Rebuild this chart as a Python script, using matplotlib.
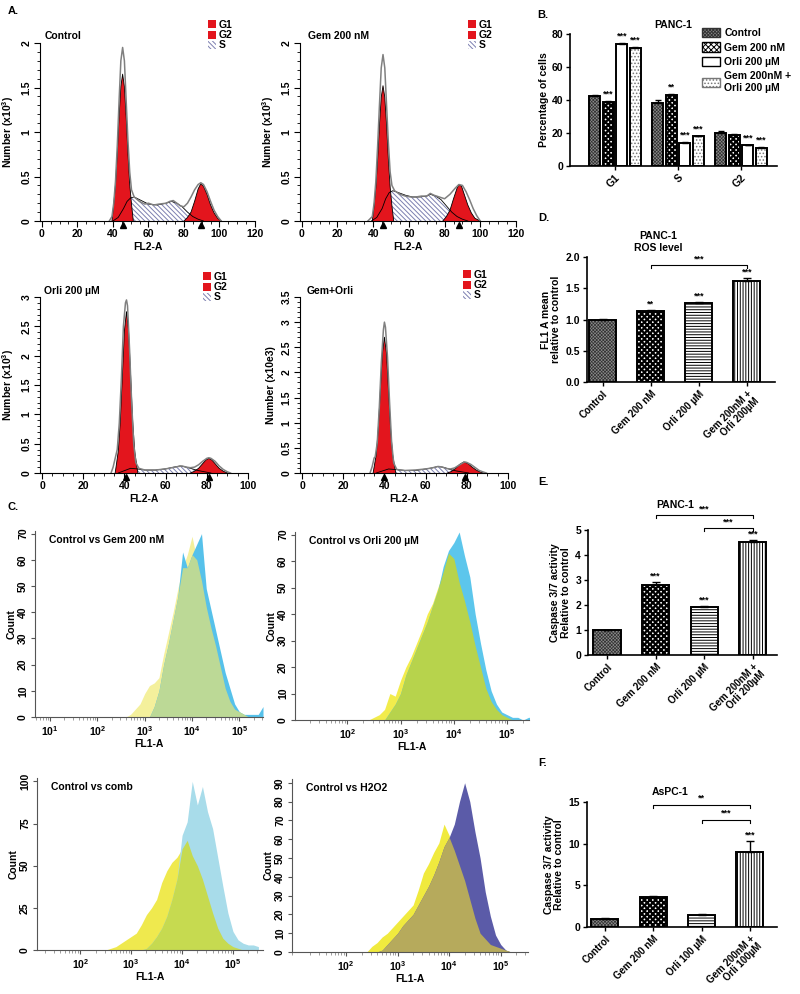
import numpy as np
import matplotlib
matplotlib.use('Agg')
import matplotlib.pyplot as plt
from matplotlib.patches import Patch
from matplotlib.ticker import MultipleLocator, FixedLocator, LogLocator, NullFormatter, FuncFormatter

plt.rcParams['font.family'] = ['Liberation Sans', 'DejaVu Sans']
plt.rcParams['font.weight'] = 'bold'
plt.rcParams['axes.labelweight'] = 'bold'
plt.rcParams['mathtext.default'] = 'regular'
plt.rcParams['hatch.linewidth'] = 0.7

# ---------------- A. cell cycle (FL2-A), number x10^3 ----------------
ctrl_tot_x = [38, 39.5, 40.5, 41.5, 42.5, 43.5, 44.5, 45.5, 46.5, 47.5, 48.5, 49.5, 50.5, 52, 55, 58, 60, 63, 66, 70,
              72, 74, 76, 78, 80, 82, 84, 86, 88, 89.5, 91, 93, 95, 97, 99, 101]
ctrl_tot_y = [0, 0.05, 0.2, 0.45, 0.85, 1.35, 1.8, 1.95, 1.8, 1.35, 0.9, 0.55, 0.35, 0.27, 0.22, 0.19, 0.2, 0.18, 0.19, 0.2,
              0.22, 0.23, 0.2, 0.17, 0.16, 0.2, 0.27, 0.35, 0.41, 0.43, 0.41, 0.33, 0.22, 0.12, 0.05, 0]
ctrl_g1_x = [39.5, 40.5, 41.5, 42.5, 43.5, 44.5, 45.5, 46.5, 47.5, 48.5, 49.5, 50.5, 51.5]
ctrl_g1_y = [0, 0.19, 0.41, 0.76, 1.17, 1.51, 1.65, 1.51, 1.17, 0.76, 0.41, 0.19, 0]
ctrl_s_x = [40, 43, 46, 48, 50, 52, 55, 60, 65, 70, 73, 76, 79, 82, 85, 88, 91]
ctrl_s_y = [0, 0.04, 0.14, 0.22, 0.26, 0.27, 0.24, 0.19, 0.18, 0.2, 0.22, 0.2, 0.16, 0.1, 0.05, 0.02, 0]
ctrl_g2_x = [80, 82, 84, 86, 88, 89.5, 91, 93, 95, 97, 99, 101]
ctrl_g2_y = [0, 0.04, 0.1, 0.22, 0.36, 0.42, 0.39, 0.3, 0.18, 0.09, 0.03, 0]
ctrl_marks = [45.5, 89.5]

gem_tot_x = [37, 39.5, 40.5, 41.5, 42.5, 43.5, 44.5, 45.5, 46.5, 47.5, 48.5, 49.5, 50.5, 52, 55, 58, 61, 64, 67, 70,
             72, 74, 77, 80, 83, 86, 88, 90, 92, 94, 96, 98, 100]
gem_tot_y = [0, 0.05, 0.2, 0.45, 0.85, 1.3, 1.72, 1.87, 1.72, 1.3, 0.88, 0.55, 0.4, 0.34, 0.3, 0.28, 0.27, 0.27, 0.28, 0.28,
             0.31, 0.29, 0.27, 0.25, 0.3, 0.37, 0.41, 0.4, 0.33, 0.24, 0.14, 0.06, 0]
gem_g1_x = [39.5, 40.5, 41.5, 42.5, 43.5, 44.5, 45.5, 46.5, 47.5, 48.5, 49.5, 50.5, 51.5]
gem_g1_y = [0, 0.17, 0.38, 0.7, 1.08, 1.39, 1.52, 1.39, 1.08, 0.7, 0.38, 0.17, 0]
gem_s_x = [39, 42, 45, 47, 49, 51, 54, 58, 62, 66, 70, 72, 75, 78, 81, 84, 87, 90, 93]
gem_s_y = [0, 0.04, 0.14, 0.25, 0.32, 0.34, 0.32, 0.29, 0.27, 0.27, 0.28, 0.3, 0.28, 0.24, 0.17, 0.1, 0.05, 0.02, 0]
gem_g2_x = [79, 81, 83, 85, 87, 88, 89.5, 91, 93, 95, 97, 100]
gem_g2_y = [0, 0.05, 0.12, 0.25, 0.37, 0.41, 0.39, 0.3, 0.18, 0.09, 0.03, 0]
gem_marks = [45.5, 88]

orli_tot_x = [33.5, 34.5, 35.5, 36.5, 37.5, 38.5, 39.5, 40.5, 41, 41.5, 42.5, 43.5, 44.5, 45.5, 47, 50, 55, 60, 63, 66,
              68, 70, 72, 74, 76, 78, 80, 81, 82, 84, 86, 88, 90, 91.5]
orli_tot_y = [0, 0.1, 0.25, 0.4, 0.85, 1.6, 2.5, 2.9, 2.95, 2.85, 2.1, 1.2, 0.5, 0.18, 0.08, 0.05, 0.05, 0.07, 0.09, 0.11,
              0.12, 0.1, 0.09, 0.1, 0.14, 0.2, 0.25, 0.26, 0.25, 0.2, 0.12, 0.06, 0.02, 0]
orli_g1_x = [35.5, 36, 37, 38, 39, 40, 41, 42, 43, 44, 45, 46, 46.5]
orli_g1_y = [0, 0.12, 0.37, 0.89, 1.67, 2.43, 2.75, 2.43, 1.67, 0.89, 0.37, 0.12, 0]
orli_s_x = [37, 40, 43, 46, 50, 55, 60, 64, 67, 70, 73, 76, 79, 82]
orli_s_y = [0, 0.04, 0.08, 0.07, 0.05, 0.05, 0.07, 0.1, 0.12, 0.1, 0.07, 0.04, 0.02, 0]
orli_g2_x = [72, 74, 76, 78, 79.5, 81, 82.5, 84, 86, 88, 90]
orli_g2_y = [0, 0.03, 0.08, 0.16, 0.22, 0.25, 0.22, 0.16, 0.08, 0.03, 0]
orli_marks = [41, 81]

comb_tot_x = [33, 34, 35, 35.5, 36.5, 37.5, 38.5, 39.5, 40, 40.5, 41.5, 42.5, 43.5, 44.5, 46, 50, 55, 60, 63, 66,
              68, 70, 72, 74, 76, 78, 79, 80, 82, 84, 86, 88, 89.5]
comb_tot_y = [0, 0.12, 0.3, 0.32, 0.6, 1.3, 2.2, 2.85, 3.0, 2.9, 2.3, 1.4, 0.6, 0.2, 0.07, 0.05, 0.06, 0.08, 0.1, 0.13,
              0.12, 0.09, 0.08, 0.1, 0.15, 0.2, 0.22, 0.21, 0.17, 0.11, 0.05, 0.02, 0]
comb_g1_x = [34.5, 35, 36, 37, 38, 39, 40, 41, 42, 43, 44, 45, 45.5]
comb_g1_y = [0, 0.12, 0.36, 0.87, 1.63, 2.38, 2.7, 2.38, 1.63, 0.87, 0.36, 0.12, 0]
comb_s_x = [36, 39, 42, 45, 50, 55, 60, 63, 66, 69, 72, 75, 78, 81]
comb_s_y = [0, 0.04, 0.08, 0.07, 0.05, 0.05, 0.08, 0.1, 0.13, 0.11, 0.07, 0.04, 0.02, 0]
comb_g2_x = [70.5, 72.5, 74.5, 76.5, 78.5, 80.5, 82.5, 84.5, 86.5, 88]
comb_g2_y = [0, 0.03, 0.09, 0.17, 0.22, 0.19, 0.12, 0.06, 0.02, 0]
comb_marks = [40, 79]

# ---------------- C. FL1-A histograms (log10 bins, counts) ----------------
fl_log = [2.4, 2.5, 2.6, 2.7, 2.8, 2.9, 3.0, 3.1, 3.2, 3.3, 3.4, 3.5, 3.6, 3.7, 3.8, 3.9,
          4.0, 4.1, 4.2, 4.3, 4.4, 4.5, 4.6, 4.7, 4.8, 4.9, 5.0, 5.1, 5.2, 5.3, 5.4, 5.5]
c1_ctrl = [0, 0, 0, 1, 3, 5, 9, 12, 13, 15, 24, 32, 40, 49, 57, 62, 69, 60, 52, 42, 34, 27, 19, 11, 6, 3, 2, 1, 0, 0, 0, 0]
c1_trt = [0, 0, 0, 0, 0, 0, 0, 0, 4, 10, 20, 28, 37, 46, 63, 57, 62, 66, 70, 49, 41, 33, 25, 17, 11, 5, 2, 1, 1, 1, 1, 4]
c2_ctrl = [0, 1, 2, 4, 10, 9, 15, 20, 24, 29, 34, 40, 44, 50, 56, 63, 61, 52, 45, 37, 28, 20, 12, 7, 4, 2, 1, 0, 0, 0, 0, 0]
c2_trt = [0, 0, 0, 0, 3, 6, 10, 17, 22, 27, 32, 37, 43, 49, 58, 64, 67, 71, 62, 54, 40, 29, 19, 11, 6, 3, 2, 1, 1, 0, 1, 1]
c3_ctrl = [0, 0, 1, 2, 4, 6, 8, 10, 15, 21, 25, 30, 40, 47, 52, 55, 60, 65, 56, 50, 42, 32, 22, 13, 7, 4, 2, 1, 0, 0, 0, 0]
c3_trt = [0, 0, 0, 0, 0, 0, 0, 0, 0, 1, 4, 8, 13, 20, 30, 42, 68, 76, 100, 86, 97, 82, 72, 55, 38, 22, 11, 6, 4, 3, 3, 2]
c4_ctrl = [0, 3, 5, 8, 10, 13, 16, 19, 22, 25, 33, 42, 47, 53, 58, 68, 62, 54, 46, 38, 28, 18, 10, 7, 4, 3, 2, 1, 0, 0, 0, 0]
c4_trt = [0, 0, 0, 1, 4, 7, 10, 14, 17, 20, 25, 30, 35, 41, 48, 56, 61, 68, 80, 90, 80, 64, 50, 32, 19, 9, 4, 1, 0, 0, 0, 0]

# ---------------- B. cell cycle distribution ----------------
phases = ['G1', 'S', 'G2']
b_names = ['Control', 'Gem 200 nM', 'Orli 200 µM', 'Gem 200nM +\nOrli 200 µM']
b_ctrl = [42.5, 38, 20]
b_gem = [38.5, 43, 19]
b_orli = [74, 14, 12.5]
b_comb = [71.5, 18, 11]
b_ctrl_err = [0.8, 2.2, 1.5]
b_gem_err = [0.7, 0.8, 0.4]
b_orli_err = [0.4, 0.3, 0.4]
b_comb_err = [0.5, 0.4, 0.4]
b_gem_stars = ['***', '**', '']
b_orli_stars = ['***', '***', '***']
b_comb_stars = ['***', '***', '***']

# ---------------- D, E, F ----------------
treat_200 = ['Control', 'Gem 200 nM', 'Orli 200 µM', 'Gem 200nM +\nOrli 200µM']
treat_100 = ['Control', 'Gem 200 nM', 'Orli 100 µM', 'Gem 200nM +\nOrli 100µM']
d_vals = [1.0, 1.13, 1.26, 1.62]
d_err = [0.01, 0.03, 0.02, 0.04]
d_stars = ['', '**', '***', '***']
e_vals = [1.0, 2.8, 1.92, 4.52]
e_err = [0.02, 0.12, 0.03, 0.08]
e_stars = ['', '***', '***', '***']
f_vals = [1.0, 3.65, 1.5, 9.0]
f_err = [0.05, 0.1, 0.05, 1.3]
f_stars = ['', '', '', '***']
d_brackets = [(1, 3, 1.87, '***')]
e_brackets = [(1, 3, 5.6, '***'), (2, 3, 5.07, '***')]
f_brackets = [(1, 3, 14.7, '**'), (2, 3, 12.9, '***')]

W, H = 800, 994
fig = plt.figure(figsize=(8, 9.94), dpi=100)
red = '#e3151d'
hatch_col = '#7c7fb0'
s_hatch = '\\' * 7


def box(l, t, r, b):
    return fig.add_axes([l / W, 1 - b / H, (r - l) / W, (b - t) / H])


def ftext(x, y, s, **kw):
    fig.text(x / W, 1 - y / H, s, **kw)


def clean(ax):
    ax.spines['top'].set_visible(False)
    ax.spines['right'].set_visible(False)


def cycle_panel(pos, title, tpos, ylabel, xmax, ymax, tot, g1, s, g2, marks, lpos):
    ax = box(*pos)
    clean(ax)
    ax.fill_between(s[0], s[1], facecolor='white', edgecolor=hatch_col, hatch=s_hatch, linewidth=0)
    ax.fill_between(g1[0], g1[1], facecolor=red, edgecolor='none')
    ax.fill_between(g2[0], g2[1], facecolor=red, edgecolor='none')
    for xs, ys in (s, g1, g2):
        ax.plot(xs, ys, color='black', lw=0.6)
    ax.plot(tot[0], tot[1], color='#808080', lw=1.1)
    ax.plot(marks, [-ymax * 0.025] * len(marks), ls='none', marker='^', color='black', ms=5, clip_on=False)
    ax.set_xlim(-1, xmax)
    ax.set_ylim(0, ymax)
    ax.xaxis.set_major_locator(MultipleLocator(20))
    ax.xaxis.set_minor_locator(MultipleLocator(5))
    ax.yaxis.set_major_locator(MultipleLocator(0.5))
    ax.yaxis.set_minor_locator(MultipleLocator(0.1))
    ax.yaxis.set_major_formatter(FuncFormatter(lambda v, p: f'{v:g}'))
    ax.tick_params(which='major', length=4, width=0.8, labelsize=7.5, pad=2)
    ax.tick_params(which='minor', length=2, width=0.6)
    for lab in ax.get_yticklabels():
        lab.set_rotation(90)
        lab.set_va('center')
    ax.set_xlabel('FL2-A', fontsize=7.5, labelpad=2)
    ax.set_ylabel(ylabel, fontsize=7.5, labelpad=4)
    ftext(tpos[0], tpos[1], title, fontsize=7.5, va='center')
    handles = [Patch(facecolor=red, label='G1'), Patch(facecolor=red, label='G2'),
               Patch(facecolor='white', edgecolor=hatch_col, hatch=s_hatch, lw=0, label='S')]
    ax.legend(handles=handles, loc='upper left', bbox_to_anchor=(lpos[0] / W, 1 - lpos[1] / H),
              bbox_transform=fig.transFigure, frameon=False, fontsize=7.5, handlelength=0.8,
              handleheight=0.8, handletextpad=0.2, labelspacing=0.02, borderpad=0, borderaxespad=0)
    return ax


cycle_panel((40, 43, 255, 221), 'Control', (45, 36), 'Number (x10$^{3}$)', 120, 2,
            (ctrl_tot_x, ctrl_tot_y), (ctrl_g1_x, ctrl_g1_y), (ctrl_s_x, ctrl_s_y), (ctrl_g2_x, ctrl_g2_y),
            ctrl_marks, (208, 20))
cycle_panel((300, 43, 516, 221), 'Gem 200 nM', (308, 36), 'Number (x10$^{3}$)', 120, 2,
            (gem_tot_x, gem_tot_y), (gem_g1_x, gem_g1_y), (gem_s_x, gem_s_y), (gem_g2_x, gem_g2_y),
            gem_marks, (468, 20))
cycle_panel((40, 297, 248, 473), 'Orli 200 µM', (44, 291), 'Number (x10$^{3}$)', 100, 3,
            (orli_tot_x, orli_tot_y), (orli_g1_x, orli_g1_y), (orli_s_x, orli_s_y), (orli_g2_x, orli_g2_y),
            orli_marks, (203, 272))
cycle_panel((300, 297, 508, 473), 'Gem+Orli', (307, 291), 'Number (x10e3)', 100, 3.5,
            (comb_tot_x, comb_tot_y), (comb_g1_x, comb_g1_y), (comb_s_x, comb_s_y), (comb_g2_x, comb_g2_y),
            comb_marks, (463, 270))


# ---------------- C panels ----------------
def flow_panel(pos, title, ctrl, trt, cols, xlo, xhi, ymax, ystep, dec):
    ax = box(*pos)
    clean(ax)
    x = 10 ** np.array(fl_log)
    ctrl = np.array(ctrl, float)
    trt = np.array(trt, float)
    ax.fill_between(x, ctrl, color=cols[0], lw=0)
    ax.fill_between(x, trt, color=cols[1], lw=0)
    ax.fill_between(x, np.minimum(ctrl, trt), color=cols[2], lw=0)
    ax.set_xscale('log')
    ax.set_xlim(10 ** xlo, 10 ** xhi)
    ax.set_ylim(0, ymax)
    ax.xaxis.set_major_locator(FixedLocator([10.0 ** k for k in dec]))
    ax.xaxis.set_major_formatter(FuncFormatter(lambda v, p: '10$^{%d}$' % round(np.log10(v))))
    ax.xaxis.set_minor_locator(LogLocator(base=10, subs=np.arange(2, 10), numticks=20))
    ax.xaxis.set_minor_formatter(NullFormatter())
    ax.yaxis.set_major_locator(MultipleLocator(ystep))
    ax.tick_params(which='major', length=3, width=0.8, labelsize=7.5, pad=2, color='#555555')
    ax.tick_params(which='minor', length=2, width=0.5, color='#777777')
    for lab in ax.get_yticklabels():
        lab.set_rotation(90)
        lab.set_va('center')
    for sp in ('left', 'bottom'):
        ax.spines[sp].set_color('#555555')
    ax.set_xlabel('FL1-A', fontsize=7.5, labelpad=1)
    ax.set_ylabel('Count', fontsize=7.5, labelpad=1)
    ax.text(0.06, 0.95, title, transform=ax.transAxes, fontsize=7.5, va='center')
    return ax


flow_panel((35, 531, 263, 717), 'Control vs Gem 200 nM', c1_ctrl, c1_trt,
           ('#f4f09c', '#56c1ea', '#bcd996'), 0.68, 5.5, 71, 10, [1, 2, 3, 4, 5])
flow_panel((295, 532, 529, 720), 'Control vs Orli 200 µM', c2_ctrl, c2_trt,
           ('#f2ec4c', '#5cc6ec', '#b7d34c'), 1.02, 5.41, 71, 10, [2, 3, 4, 5])
flow_panel((37, 778, 263, 950), 'Control vs comb', c3_ctrl, c3_trt,
           ('#efe94e', '#a8dcea', '#c6da50'), 1.15, 5.59, 102, 25, [2, 3, 4, 5])
flow_panel((292, 779, 528, 952), 'Control vs H2O2', c4_ctrl, c4_trt,
           ('#f0ea3e', '#5b5ba8', '#b6aa5c'), 0.95, 5.53, 92, 10, [2, 3, 4, 5])


# ---------------- bar helpers ----------------
def draw_bar(ax, x, h, w, style):
    fc, hc, hatch, hlw = style
    bar = ax.bar(x, h, w, color=fc, edgecolor=hc, hatch=hatch, linewidth=0, zorder=2)
    for p in bar:
        if hasattr(p, 'set_hatch_linewidth'):
            p.set_hatch_linewidth(hlw)
    ax.bar(x, h, w, fill=False, edgecolor='black', linewidth=1.4, zorder=3)
    return bar


b_styles = [('#8a8a8a', '#333333', 'xxxxxxxxxx', 0.5), ('white', 'black', 'xxxxxx', 1.6),
            ('white', 'black', '', 0.7), ('white', '#777777', '.....', 0.7)]
def_styles = [('#8a8a8a', '#333333', 'xxxxxxxxxx', 0.5), ('white', 'black', 'xxxxxx', 1.6),
              ('white', 'black', '------', 0.7), ('white', 'black', '||||||', 0.7)]

# ---- B ----
axb = box(570, 34, 777, 166)
clean(axb)
b_series = [b_ctrl, b_gem, b_orli, b_comb]
b_errs = [b_ctrl_err, b_gem_err, b_orli_err, b_comb_err]
b_star = [['', '', ''], b_gem_stars, b_orli_stars, b_comb_stars]
gx = np.arange(len(phases))
for i in range(4):
    xs = gx + (i - 1.5) * 0.215
    for j in range(3):
        draw_bar(axb, xs[j], b_series[i][j], 0.17, b_styles[i])
    axb.errorbar(xs, b_series[i], yerr=[[0] * 3, b_errs[i]], fmt='none', ecolor='black',
                 elinewidth=1, capsize=2.5, capthick=1, zorder=4)
    for j in range(3):
        if b_star[i][j]:
            axb.text(xs[j], b_series[i][j] + b_errs[i][j] + 1.5, b_star[i][j], ha='center',
                     va='bottom', fontsize=6.5)
axb.set_xlim(-0.714, 2.571)
axb.set_ylim(0, 80)
axb.yaxis.set_major_locator(MultipleLocator(20))
axb.set_xticks(gx)
axb.set_xticklabels(phases, rotation=45, ha='right', rotation_mode='anchor')
axb.tick_params(labelsize=7.5, length=3, width=1, pad=2)
axb.spines['left'].set_linewidth(1.2)
axb.spines['bottom'].set_linewidth(1.2)
axb.set_ylabel('Percentage of cells', fontsize=7.5, labelpad=2)
axb.set_title('PANC-1', fontsize=7.5, pad=4, fontweight='bold')
leg_handles = []
for st, nm in zip(b_styles, b_names):
    ph = Patch(facecolor=st[0], edgecolor=st[1], hatch=st[2], label=nm)
    leg_handles.append(ph)
leg = fig.legend(handles=leg_handles, loc='upper left', bbox_to_anchor=(702 / W, 1 - 28 / H),
                 frameon=False, fontsize=7.5, handlelength=1.7, handleheight=1.0,
                 handletextpad=0.45, labelspacing=0.4, borderpad=0, borderaxespad=0)


def bar_panel(pos, vals, errs, stars, labels, ymax, ystep, fmt, title, title_pos, ylabel, brackets, xl):
    ax = box(*pos)
    clean(ax)
    xs = np.arange(len(vals))
    for i in range(len(vals)):
        draw_bar(ax, xs[i], vals[i], 0.56, def_styles[i])
    ax.errorbar(xs, vals, yerr=[[0] * len(vals), errs], fmt='none', ecolor='black',
                elinewidth=1, capsize=3, capthick=1, zorder=4)
    for i in range(len(vals)):
        if stars[i]:
            ax.text(xs[i], vals[i] + errs[i] + ymax * 0.01, stars[i], ha='center', va='bottom', fontsize=6.5)
    for x1, x2, y, s in brackets:
        d = ymax * 0.025
        ax.plot([x1, x1, x2, x2], [y - d, y, y, y - d], color='black', lw=0.8, clip_on=False)
        ax.text((x1 + x2) / 2, y + ymax * 0.012, s, ha='center', va='bottom', fontsize=6.5)
    ax.set_xlim(*xl)
    ax.set_ylim(0, ymax)
    ax.yaxis.set_major_locator(MultipleLocator(ystep))
    ax.yaxis.set_major_formatter(FuncFormatter(lambda v, p: fmt.format(v)))
    ax.set_xticks(xs)
    ax.set_xticklabels(labels, rotation=45, ha='right', rotation_mode='anchor', fontsize=7,
                       linespacing=1.0)
    ax.tick_params(axis='y', labelsize=7.5)
    ax.tick_params(length=3, width=1, pad=2)
    ax.spines['left'].set_linewidth(1.2)
    ax.spines['bottom'].set_linewidth(1.2)
    ax.set_ylabel(ylabel, fontsize=7.5, labelpad=3, linespacing=1.1)
    ax.text(title_pos[0], title_pos[1], title, transform=ax.transAxes, ha='center', va='center',
            fontsize=7.5, linespacing=1.3)
    return ax


bar_panel((587, 257, 775, 382), d_vals, d_err, d_stars, treat_200, 2.0, 0.5, '{:.1f}',
          'PANC-1\nROS level', (0.378, 1.12), 'FL1 A mean\nrelative to control', d_brackets, (-0.33, 3.59))
bar_panel((588, 530, 777, 655), e_vals, e_err, e_stars, treat_200, 5, 1, '{:.0f}',
          'PANC-1', (0.46, 1.2), 'Caspase 3/7 activity\nRelative to control', e_brackets, (-0.39, 3.5))
bar_panel((587, 802, 777, 927), f_vals, f_err, f_stars, treat_100, 15, 5, '{:.0f}',
          'AsPC-1', (0.437, 1.08), 'Caspase 3/7 activity\nRelative to control', f_brackets, (-0.37, 3.56))

for lx, ly, s in [(8, 11, 'A.'), (537, 15, 'B.'), (8, 507, 'C.'), (538, 218, 'D.'),
                  (538, 482, 'E.'), (538, 763, 'F.')]:
    ftext(lx, ly, s, fontsize=8, va='center')

plt.savefig('out.png', dpi=100)
